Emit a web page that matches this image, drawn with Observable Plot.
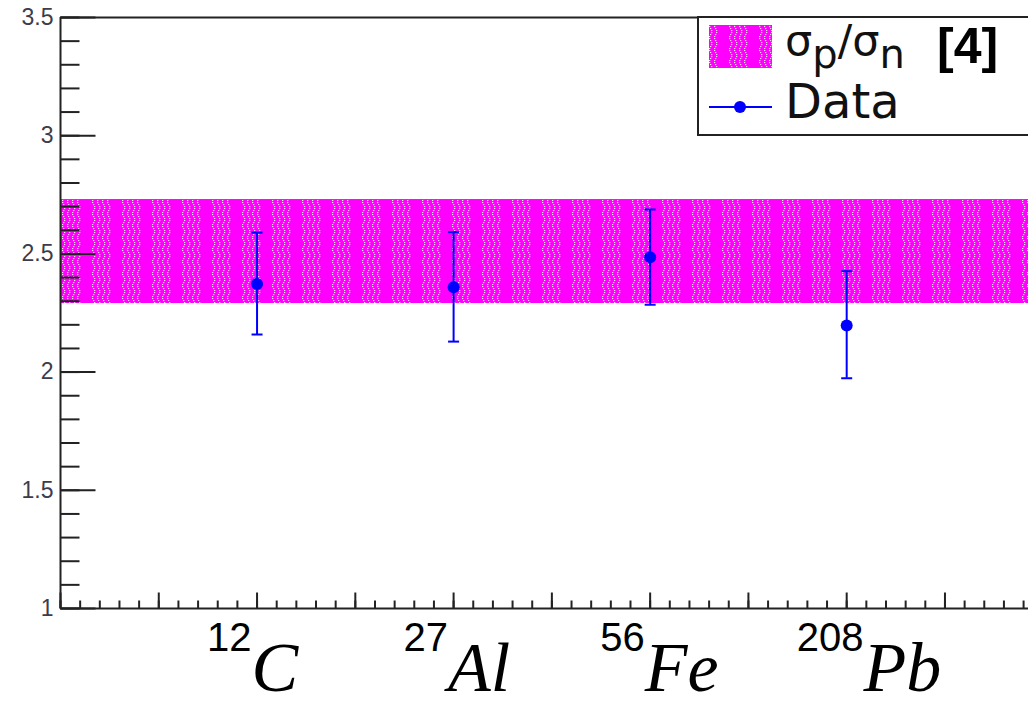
<!DOCTYPE html>
<html>
<head>
<meta charset="utf-8">
<script src="https://cdn.jsdelivr.net/npm/d3@7"></script>
<script src="https://cdn.jsdelivr.net/npm/@observablehq/plot@0.6"></script>
<style>
html, body { margin: 0; padding: 0; background: #fff; overflow: hidden; }
#wrap { position: relative; width: 1028px; height: 707px; }
#legend { position: absolute; left: 697px; top: 16px; }
</style>
</head>
<body>
<svg width="0" height="0" style="position:absolute">
  <defs id="defs"></defs>
</svg>
<div id="wrap">
  <div id="chart"></div>
  <svg id="legend" width="331" height="121"></svg>
</div>
<script>
// ---- data ----
const categories = ["12C", "27Al", "56Fe", "208Pb"];
const massNumbers = ["12", "27", "56", "208"];
const elements = ["C", "Al", "Fe", "Pb"];
const xPositions = [2, 4, 6, 8];
const ratio = [2.373, 2.359, 2.486, 2.197];
const ratioLow = [2.159, 2.129, 2.285, 1.974];
const ratioHigh = [2.590, 2.592, 2.688, 2.427];
const bandLow = 2.29;
const bandHigh = 2.73;
const yMajorTicks = [1, 1.5, 2, 2.5, 3, 3.5];
const yMinorTicks = d3.range(10, 36).map(d => d / 10);
const xMajorTicks = d3.range(0, 10);
const xMinorTicks = d3.range(0, 50).map(d => d / 5);
const xDomain = [0, 9.85];
const yDomain = [1, 3.5];
const legendBandLabel = ["σ", "p", "/σ", "n"];
const legendCitation = "[4]";
const legendDataLabel = "Data";

const rows = categories.map((c, i) => ({
  cat: c, mass: massNumbers[i], el: elements[i],
  x: xPositions[i], y: ratio[i], lo: ratioLow[i], hi: ratioHigh[i]
}));
const band = [{lo: bandLow, hi: bandHigh}];

// ---- hatch pattern ----
const defs = d3.select("#defs");
const pat = defs.append("pattern").attr("id", "hatch")
  .attr("patternUnits", "userSpaceOnUse").attr("width", 30).attr("height", 12);
pat.append("rect").attr("width", 30).attr("height", 12).attr("fill", "#ff00ff");
const wave = [0, 1, 1, 0, -1, -1];
for (let c = 0; c < 4; c++) {
  for (let r = 0; r < 6; r++) {
    pat.append("rect").attr("x", 3 + c * 5 + wave[r]).attr("y", r * 2)
      .attr("width", 1.3).attr("height", 1.1).attr("fill", "#ffd8ff");
  }
}

const blue = "#0000ff";
const axisColor = "#222";
const capSymbol = {
  draw(ctx, size) {
    const r = Math.sqrt(size / Math.PI);
    ctx.moveTo(-r, 0); ctx.lineTo(r, 0);
  }
};
// tick symbols: length = r
const tickRight = {
  draw(ctx, size) { const r = Math.sqrt(size / Math.PI); ctx.moveTo(0, 0); ctx.lineTo(r, 0); }
};
const tickUp = {
  draw(ctx, size) { const r = Math.sqrt(size / Math.PI); ctx.moveTo(0, 0); ctx.lineTo(0, -r); }
};

const chart = Plot.plot({
  width: 1028, height: 707,
  marginLeft: 60, marginRight: 0, marginTop: 17, marginBottom: 99,
  x: {domain: xDomain, axis: null},
  y: {domain: yDomain, axis: null},
  style: {background: "transparent", overflow: "visible"},
  marks: [
    Plot.rect(band, {x1: xDomain[0], x2: xDomain[1], y1: "lo", y2: "hi", fill: "url(#hatch)"}),
    Plot.ruleX(rows, {x: "x", y1: "lo", y2: "hi", stroke: blue, strokeWidth: 2}),
    Plot.dot(rows, {x: "x", y: "hi", r: 5.5, symbol: capSymbol, stroke: blue, strokeWidth: 2, fill: "none"}),
    Plot.dot(rows, {x: "x", y: "lo", r: 5.5, symbol: capSymbol, stroke: blue, strokeWidth: 2, fill: "none"}),
    Plot.dot(rows, {x: "x", y: "y", r: 6, fill: blue}),
    Plot.dot(yMinorTicks, {x: xDomain[0], y: d => d, r: 19, symbol: tickRight, stroke: axisColor, strokeWidth: 2, fill: "none"}),
    Plot.dot(yMajorTicks, {x: xDomain[0], y: d => d, r: 35, symbol: tickRight, stroke: axisColor, strokeWidth: 2, fill: "none"}),
    Plot.dot(xMinorTicks, {x: d => d, y: yDomain[0], r: 8, symbol: tickUp, stroke: axisColor, strokeWidth: 2, fill: "none"}),
    Plot.dot(xMajorTicks, {x: d => d, y: yDomain[0], r: 16, symbol: tickUp, stroke: axisColor, strokeWidth: 2, fill: "none"}),
    Plot.ruleX([xDomain[0]], {stroke: axisColor, strokeWidth: 2}),
    Plot.ruleY([yDomain[0]], {stroke: axisColor, strokeWidth: 2}),
    Plot.ruleY([yDomain[1]], {stroke: axisColor, strokeWidth: 2}),
    Plot.text(yMajorTicks, {x: xDomain[0], y: d => d, text: d => String(d), textAnchor: "end", dx: -7,
      fontSize: 23, fill: "#3c3c4c", fontFamily: "Liberation Sans, Arial, sans-serif"}),
    Plot.text(rows, {x: "x", text: "cat", frameAnchor: "bottom", lineAnchor: "bottom",
      textAnchor: "start", dx: -50, dy: 82, className: "xlab",
      fontSize: 70, fontFamily: "Liberation Serif, serif", fontStyle: "italic", fill: "#000"})
  ]
});
document.getElementById("chart").appendChild(chart);

// superscript mass numbers in x labels
d3.select(chart).selectAll(".xlab text").each(function(_, i) {
  const t = d3.select(this);
  const row = rows[i];
  t.text(null);
  t.append("tspan").attr("font-size", 40).attr("font-style", "normal")
    .attr("font-family", "Liberation Sans Narrow, Liberation Sans, sans-serif")
    .attr("dy", -40).text(row.mass);
  t.append("tspan").attr("dy", 40).text(row.el);
});

// ---- legend ----
const lg = d3.select("#legend");
lg.append("rect").attr("x", 1).attr("y", 1).attr("width", 360).attr("height", 118)
  .attr("fill", "#fff").attr("stroke", axisColor).attr("stroke-width", 2);
lg.append("rect").attr("x", 12).attr("y", 9).attr("width", 63).attr("height", 43).attr("fill", "url(#hatch)");
const t1 = lg.append("text").attr("x", 88).attr("y", 39)
  .attr("font-family", "DejaVu Sans, sans-serif").attr("font-size", 43).attr("fill", "#111");
t1.append("tspan").text(legendBandLabel[0]);
t1.append("tspan").attr("font-size", 40).attr("dy", 13).text(legendBandLabel[1]);
t1.append("tspan").attr("dy", -13).text(legendBandLabel[2]);
t1.append("tspan").attr("font-size", 40).attr("dy", 13).text(legendBandLabel[3]);
lg.append("text").attr("x", 240).attr("y", 47).attr("font-family", "Liberation Sans, Arial, sans-serif")
  .attr("font-weight", "bold").attr("font-size", 50).attr("fill", "#000").text(legendCitation);
lg.append("line").attr("x1", 12).attr("x2", 75).attr("y1", 91).attr("y2", 91)
  .attr("stroke", blue).attr("stroke-width", 2);
lg.append("circle").attr("cx", 43).attr("cy", 91).attr("r", 6).attr("fill", blue);
lg.append("text").attr("x", 88).attr("y", 102).attr("font-family", "DejaVu Sans, sans-serif")
  .attr("font-size", 48).attr("fill", "#111").text(legendDataLabel);
</script>
</body>
</html>
